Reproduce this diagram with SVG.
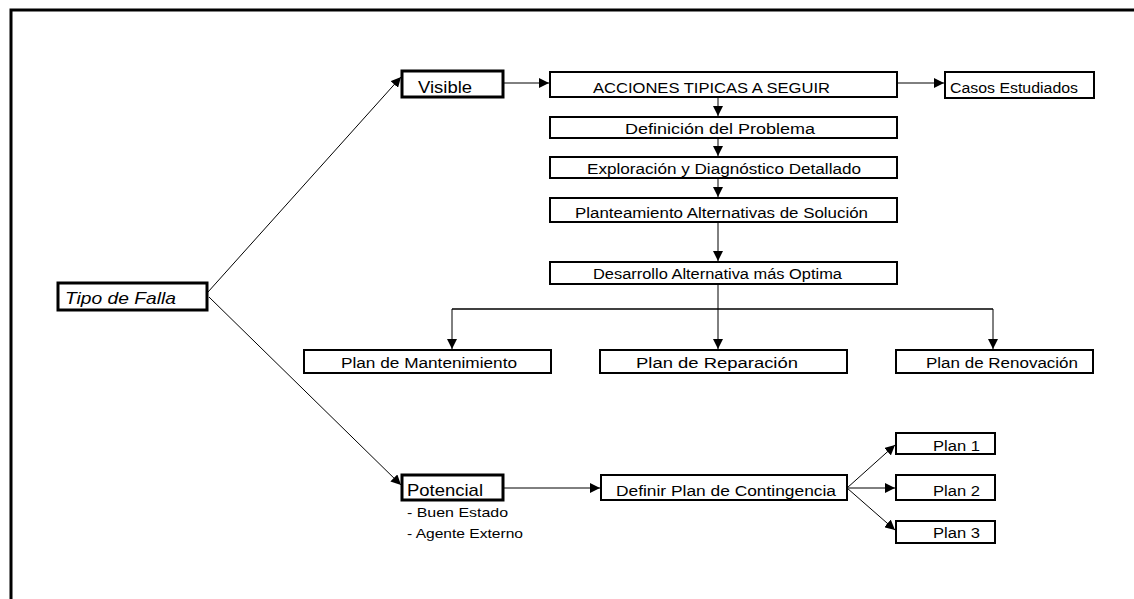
<svg xmlns="http://www.w3.org/2000/svg" width="1134" height="599" viewBox="0 0 1134 599">
<style>
.box{fill:#fff;stroke:#000;stroke-width:2}
.bold{fill:#fff;stroke:#000;stroke-width:3}
.t{font-family:"Liberation Sans",Arial,sans-serif;font-size:14px;fill:#000}
.c{stroke:#000;stroke-width:1;fill:none}
</style>
<defs>
<marker id="ah" viewBox="0 0 10 10" refX="10" refY="5" markerWidth="10" markerHeight="10" markerUnits="userSpaceOnUse" orient="auto"><path d="M0,0 L10,5 L0,10 z" fill="#000"/></marker>
</defs>
<rect width="1134" height="599" fill="#fff"/>
<polyline points="11,599 11,10 1134,10" fill="none" stroke="#000" stroke-width="3"/>
<g id="connectors">
<line class="c" x1="208" y1="292" x2="401" y2="77" marker-end="url(#ah)"/>
<line class="c" x1="209" y1="297" x2="401" y2="485" marker-end="url(#ah)"/>
<line class="c" x1="503" y1="83" x2="549" y2="83" marker-end="url(#ah)"/>
<line class="c" x1="897" y1="83" x2="944" y2="83" marker-end="url(#ah)"/>
<line class="c" x1="718" y1="97" x2="718" y2="116" marker-end="url(#ah)"/>
<line class="c" x1="718" y1="138" x2="718" y2="156" marker-end="url(#ah)"/>
<line class="c" x1="718" y1="178" x2="718" y2="197" marker-end="url(#ah)"/>
<line class="c" x1="718" y1="222" x2="718" y2="261" marker-end="url(#ah)"/>
<line class="c" x1="718" y1="284" x2="718" y2="349" marker-end="url(#ah)"/>
<line class="c" x1="452" y1="309" x2="993" y2="309" style="stroke-width:1.5"/>
<line class="c" x1="452" y1="309" x2="452" y2="349" marker-end="url(#ah)"/>
<line class="c" x1="993" y1="309" x2="993" y2="349" marker-end="url(#ah)"/>
<line class="c" x1="503" y1="488" x2="600" y2="488" marker-end="url(#ah)"/>
<line class="c" x1="847" y1="488" x2="895" y2="445" marker-end="url(#ah)"/>
<line class="c" x1="847" y1="488" x2="895" y2="488" marker-end="url(#ah)"/>
<line class="c" x1="847" y1="488" x2="895" y2="530" marker-end="url(#ah)"/>
</g>
<g id="tipo"><rect class="bold" x="58" y="283" width="149" height="27"/><text class="t" x="65" y="304" style="font-size:17px;font-style:italic" textLength="111" lengthAdjust="spacingAndGlyphs">Tipo de  Falla</text></g>
<g id="visible"><rect class="bold" x="402" y="71" width="101" height="26"/><text class="t" x="418" y="93" style="font-size:16px" textLength="54" lengthAdjust="spacingAndGlyphs">Visible</text></g>
<g id="acciones"><rect class="box" x="550" y="72" width="347" height="25"/><text class="t" x="593" y="93" textLength="237" lengthAdjust="spacingAndGlyphs">ACCIONES  TIPICAS A SEGUIR</text></g>
<g id="casos"><rect class="box" x="945" y="72" width="149" height="26"/><text class="t" x="950" y="93" textLength="128" lengthAdjust="spacingAndGlyphs">Casos  Estudiados</text></g>
<g id="definicion"><rect class="box" x="550" y="117" width="347" height="21"/><text class="t" x="625" y="134" textLength="190" lengthAdjust="spacingAndGlyphs">Definición del Problema</text></g>
<g id="exploracion"><rect class="box" x="550" y="157" width="347" height="21"/><text class="t" x="587" y="174" textLength="274" lengthAdjust="spacingAndGlyphs">Exploración y Diagnóstico Detallado</text></g>
<g id="planteamiento"><rect class="box" x="550" y="198" width="347" height="24"/><text class="t" x="575" y="218" textLength="293" lengthAdjust="spacingAndGlyphs">Planteamiento Alternativas de Solución</text></g>
<g id="desarrollo"><rect class="box" x="550" y="262" width="347" height="22"/><text class="t" x="593" y="279" textLength="249" lengthAdjust="spacingAndGlyphs">Desarrollo Alternativa más Optima</text></g>
<g id="mantenimiento"><rect class="box" x="304" y="350" width="247" height="23"/><text class="t" x="341" y="368" textLength="176" lengthAdjust="spacingAndGlyphs">Plan de Mantenimiento</text></g>
<g id="reparacion"><rect class="box" x="600" y="350" width="247" height="23"/><text class="t" x="636" y="368" textLength="162" lengthAdjust="spacingAndGlyphs">Plan de Reparación</text></g>
<g id="renovacion"><rect class="box" x="896" y="350" width="197" height="23"/><text class="t" x="926" y="368" textLength="152" lengthAdjust="spacingAndGlyphs">Plan de Renovación</text></g>
<g id="potencial"><rect class="bold" x="402" y="475" width="101" height="25"/><text class="t" x="407" y="496" style="font-size:17px" textLength="76" lengthAdjust="spacingAndGlyphs">Potencial</text>
<text class="t" x="407" y="517" style="font-size:13px" textLength="101" lengthAdjust="spacingAndGlyphs">- Buen  Estado</text>
<text class="t" x="407" y="538" style="font-size:13px" textLength="116" lengthAdjust="spacingAndGlyphs">- Agente Externo</text></g>
<g id="definir"><rect class="box" x="601" y="475" width="246" height="25"/><text class="t" x="616" y="496" textLength="220" lengthAdjust="spacingAndGlyphs">Definir  Plan de Contingencia</text></g>
<g id="plan1"><rect class="box" x="896" y="433" width="99" height="21"/><text class="t" x="933" y="451" textLength="47" lengthAdjust="spacingAndGlyphs">Plan  1</text></g>
<g id="plan2"><rect class="box" x="896" y="475" width="99" height="25"/><text class="t" x="933" y="496" textLength="47" lengthAdjust="spacingAndGlyphs">Plan  2</text></g>
<g id="plan3"><rect class="box" x="896" y="521" width="99" height="22"/><text class="t" x="933" y="538" textLength="47" lengthAdjust="spacingAndGlyphs">Plan  3</text></g>
</svg>
